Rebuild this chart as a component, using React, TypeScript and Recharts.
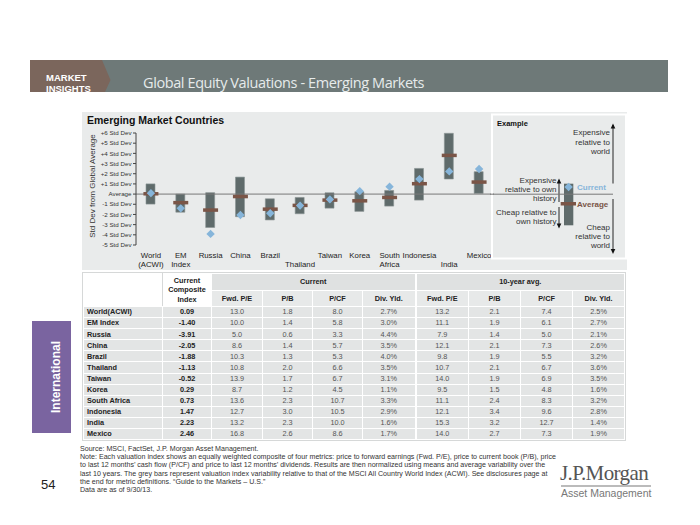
import React from "react"
import { ComposedChart, Bar, Line, XAxis, YAxis, ReferenceLine } from "recharts"

const FONT = '"Liberation Sans", Arial, sans-serif'

// chart: composite valuation index in std devs vs. global average
const axisLabels = ["World\n(ACWI)", "EM\nIndex", "Russia", "China", "Brazil", "\nThailand", "Taiwan", "Korea", "South\nAfrica", "Indonesia", "\nIndia", "Mexico"]
const rangeLow = [-0.98, -1.78, -3.28, -2.22, -2.54, -1.93, -1.38, -1.7, -1.18, -0.59, 1.48, 0.07]
const rangeHigh = [1.0, 0.0, 0.14, 1.67, -0.46, -0.33, 0.13, 0.23, 0.36, 2.52, 5.97, 2.2]
const histAvg = [0.03, -0.84, -1.57, -0.24, -1.48, -1.11, -0.59, -0.66, -0.33, 1.02, 3.8, 1.18]
const composite = [0.09, -1.4, -3.91, -2.05, -1.88, -1.13, -0.52, 0.29, 0.73, 1.47, 2.23, 2.46]
const yTicks = [-5, -4, -3, -2, -1, 0, 1, 2, 3, 4, 5, 6]

// table
const tableNames = ["World(ACWI)", "EM Index", "Russia", "China", "Brazil", "Thailand", "Taiwan", "Korea", "South Africa", "Indonesia", "India", "Mexico"]
const subHeaders = ["Fwd. P/E", "P/B", "P/CF", "Div. Yld."]
const curFwdPE = ["13.0", "10.0", "5.0", "8.6", "10.3", "10.8", "13.9", "8.7", "13.6", "12.7", "13.2", "16.8"]
const curPB = ["1.8", "1.4", "0.6", "1.4", "1.3", "2.0", "1.7", "1.2", "2.3", "3.0", "2.3", "2.6"]
const curPCF = ["8.0", "5.8", "3.3", "5.7", "5.3", "6.6", "6.7", "4.5", "10.7", "10.5", "10.0", "8.6"]
const curDiv = ["2.7%", "3.0%", "4.4%", "3.5%", "4.0%", "3.5%", "3.1%", "1.1%", "3.3%", "2.9%", "1.6%", "1.7%"]
const avgFwdPE = ["13.2", "11.1", "7.9", "12.1", "9.8", "10.7", "14.0", "9.5", "11.1", "12.1", "15.3", "14.0"]
const avgPB = ["2.1", "1.9", "1.4", "2.1", "1.9", "2.1", "1.9", "1.5", "2.4", "3.4", "3.2", "2.7"]
const avgPCF = ["7.4", "6.1", "5.0", "7.3", "5.5", "6.7", "6.9", "4.8", "8.3", "9.6", "12.7", "7.3"]
const avgDiv = ["2.5%", "2.7%", "2.1%", "2.6%", "3.2%", "3.6%", "3.5%", "1.6%", "3.2%", "2.8%", "1.4%", "1.9%"]

const footnotes = [
  "Source: MSCI, FactSet, J.P. Morgan Asset Management.",
  "Note: Each valuation index shows an equally weighted composite of four metrics: price to forward earnings (Fwd. P/E), price to current book (P/B), price",
  "to last 12 months\u2019 cash flow (P/CF) and price to last 12 months\u2019 dividends. Results are then normalized using means and average variability over the",
  "last 10 years. The grey bars represent valuation index variability relative to that of the MSCI All Country World Index (ACWI). See disclosures page at",
  "the end for metric definitions. \u201cGuide to the Markets \u2013 U.S.\u201d",
  "Data are as of 9/30/13.",
]

const BAR = "#5f6b6b"
const AVG = "#7a5547"
const CUR = "#86b5da"
const PANEL = "#e9ebeb"
const CELL = "#e3e5e5"

const fmtY = (v: number) => (v === 0 ? "Average" : `${v > 0 ? "+" : ""}${v} Std Dev`)

const AxisTick = (props: any) => {
  const { x, y, payload } = props
  const lines = String(payload.value).split("\n")
  return (
    <g>
      {lines.map((l: string, i: number) => (
        <text key={i} x={x} y={y + 4.5 + i * 9.4} textAnchor="middle" fontSize={7.8} fill="#222" fontFamily={FONT}>
          {l}
        </text>
      ))}
    </g>
  )
}

const YTick = (props: any) => {
  const { x, y, payload } = props
  return (
    <text x={x} y={y + 2.2} textAnchor="end" fontSize={6.2} fill="#333" fontFamily={FONT}>
      {fmtY(payload.value)}
    </text>
  )
}

const YLabel = (props: any) => {
  const { x, y, height } = props.viewBox
  const cx = x + 9
  const cy = y + height / 2 - 3
  return (
    <text x={cx} y={cy} transform={`rotate(-90 ${cx} ${cy})`} textAnchor="middle" dominantBaseline="central" fontSize={8} fill="#333" fontFamily={FONT}>
      Std Dev from Global Average
    </text>
  )
}

const renderAvg = (p: any) => {
  if (p.cx == null || p.cy == null) return <g key={`a${p.index}`} />
  return <rect key={`a${p.index}`} x={p.cx - 7.5} y={p.cy - 1.75} width={15} height={3.5} fill={AVG} />
}

const renderCur = (p: any) => {
  if (p.cx == null || p.cy == null) return <g key={`c${p.index}`} />
  const { cx, cy } = p
  return <path key={`c${p.index}`} d={`M${cx},${cy - 4.2} L${cx + 4.2},${cy} L${cx},${cy + 4.2} L${cx - 4.2},${cy} Z`} fill={CUR} />
}

function ExamplePanel() {
  const t = { fontSize: 8, fill: "#333", fontFamily: FONT }
  const up = (x: number, y: number) => <polygon points={`${x},${y} ${x - 2.3},${y + 5} ${x + 2.3},${y + 5}`} fill="#111" />
  const down = (x: number, y: number) => <polygon points={`${x},${y} ${x - 2.3},${y - 5} ${x + 2.3},${y - 5}`} fill="#111" />
  return (
    <svg style={{ position: "absolute", left: 490, top: 113 }} width={140} height={150}>
      <rect x={2} y={1.5} width={134} height={144} fill="none" stroke="#fff" strokeWidth={2} />
      <text x={7} y={13} fontSize={7.5} fontWeight="bold" fill="#111" fontFamily={FONT}>Example</text>
      <g textAnchor="end">
        <text x={120} y={22} {...t}>Expensive</text>
        <text x={120} y={31.5} {...t}>relative to</text>
        <text x={120} y={41} {...t}>world</text>
        <text x={120} y={116.5} {...t}>Cheap</text>
        <text x={120} y={125.5} {...t}>relative to</text>
        <text x={120} y={135} {...t}>world</text>
        <text x={66.5} y={69.5} {...t}>Expensive</text>
        <text x={66.5} y={78.5} {...t}>relative to own</text>
        <text x={66.5} y={87.5} {...t}>history</text>
        <text x={66.5} y={101.5} {...t}>Cheap relative to</text>
        <text x={66.5} y={110.5} {...t}>own history</text>
      </g>
      <line x1={123} y1={12} x2={123} y2={70.5} stroke="#111" strokeWidth={0.9} />
      {up(123, 10.5)}
      <line x1={123} y1={86} x2={123} y2={139} stroke="#111" strokeWidth={0.9} />
      {down(123, 141)}
      <line x1={69} y1={67} x2={69} y2={89} stroke="#111" strokeWidth={0.9} />
      {up(69, 65.5)}
      <line x1={69} y1={94} x2={69} y2={113} stroke="#111" strokeWidth={0.9} />
      {down(69, 115.5)}
      <rect x={74} y={70.7} width={9.3} height={41.6} fill={BAR} />
      <line x1={0} y1={81.2} x2={123} y2={81.2} stroke="#777" strokeWidth={1} />
      <rect x={70.7} y={89} width={15.3} height={3.5} fill={AVG} />
      <path d="M78.6,69.8 L82.8,74 L78.6,78.2 L74.4,74 Z" fill={CUR} />
      <text x={87} y={77} fontSize={8} fontWeight="bold" fill={CUR} fontFamily={FONT}>Current</text>
      <text x={87} y={93.5} fontSize={8} fontWeight="bold" fill={AVG} fontFamily={FONT}>Average</text>
    </svg>
  )
}

function ValuationTable() {
  const colW = [79, 49, 51, 50, 50, 53, 53, 52, 52, 52]
  const base: React.CSSProperties = { padding: 0, border: "1px solid #fff", textAlign: "center", lineHeight: "1", whiteSpace: "nowrap" }
  const hdr: React.CSSProperties = { ...base, fontWeight: "bold", color: "#222", background: CELL }
  const cell: React.CSSProperties = { ...base, color: "#555", background: CELL }
  const cols = [curFwdPE, curPB, curPCF, curDiv, avgFwdPE, avgPB, avgPCF, avgDiv]
  return (
    <table
      style={{
        position: "absolute", left: 83, top: 273, width: 541, borderCollapse: "collapse", tableLayout: "fixed",
        fontFamily: FONT, fontSize: 7.3, outline: "1px solid #d6d8d8",
      }}
    >
      <colgroup>
        {colW.map((w, i) => <col key={i} style={{ width: w }} />)}
      </colgroup>
      <tbody>
        <tr style={{ height: 16.5 }}>
          <td rowSpan={2} style={{ ...base, background: "#fff", borderRight: "1px solid #d6d8d8" }} />
          <td rowSpan={2} style={{ ...hdr, background: "#fff", lineHeight: "9.6px" }}>Current<br />Composite<br />Index</td>
          <td colSpan={4} style={{ ...hdr, background: "#dfe1e1", borderRight: "2px solid #fff" }}>Current</td>
          <td colSpan={4} style={{ ...hdr, background: "#dfe1e1" }}>10-year avg.</td>
        </tr>
        <tr style={{ height: 16.5 }}>
          {[...subHeaders, ...subHeaders].map((h, i) => (
            <td key={i} style={{ ...hdr, background: "#e7e9e9", borderRight: i === 3 ? "2px solid #fff" : base.border }}>{h}</td>
          ))}
        </tr>
        {tableNames.map((n, r) => (
          <tr key={n} style={{ height: 11.1 }}>
            <td style={{ ...hdr, textAlign: "left", paddingLeft: 3 }}>{n}</td>
            <td style={hdr}>{composite[r].toFixed(2)}</td>
            {cols.map((c, k) => (
              <td key={k} style={{ ...cell, borderRight: k === 3 ? "2px solid #fff" : base.border }}>{c[r]}</td>
            ))}
          </tr>
        ))}
      </tbody>
    </table>
  )
}

export default function App() {
  const chartData = axisLabels.map((label, i) => ({
    label,
    range: [rangeLow[i], rangeHigh[i]],
    avg: histAvg[i],
    current: composite[i],
  }))

  return (
    <div style={{ position: "absolute", left: 0, top: 0, width: 700, height: 525, background: "#fff", fontFamily: FONT, overflow: "hidden" }}>
      {/* header band */}
      <div style={{ position: "absolute", left: 30, top: 60, width: 638, height: 32, background: "#6e7978", overflow: "hidden" }}>
        <svg width={638} height={32} style={{ position: "absolute", left: 0, top: 0 }}>
          <polygon points="0,0 72,0 80.5,20 75,32 0,32" fill="#7b665c" />
          <text x={16} y={20.5} fontSize={9.5} fontWeight="bold" fill="#fff" fontFamily={FONT}>MARKET</text>
          <text x={16} y={31.6} fontSize={9.5} fontWeight="bold" fill="#fff" fontFamily={FONT}>INSIGHTS</text>
          <text x={113} y={27.5} fontSize={14.5} fill="#e6ebeb" fontFamily='"Open Sans", sans-serif' letterSpacing={-0.4}>
            Global Equity Valuations - Emerging Markets
          </text>
        </svg>
      </div>

      {/* chart panel */}
      <div style={{ position: "absolute", left: 82, top: 112, width: 545, height: 158, background: PANEL }} />
      <div style={{ position: "absolute", left: 87, top: 114, fontSize: 10.5, fontWeight: "bold", color: "#111", whiteSpace: "nowrap" }}>
        Emerging Market Countries
      </div>
      <div style={{ position: "absolute", left: 83, top: 113 }}>
        <ComposedChart width={420} height={160} data={chartData} margin={{ top: 20, right: 9, bottom: 0, left: 0 }}>
          <XAxis dataKey="label" height={28} axisLine={false} tickLine={false} interval={0} tick={<AxisTick />} />
          <YAxis
            width={53}
            domain={[-5, 6]}
            ticks={yTicks}
            interval={0}
            tickSize={3}
            tickMargin={1.5}
            axisLine={{ stroke: "#444" }}
            tickLine={{ stroke: "#444" }}
            tick={<YTick />}
            label={<YLabel />}
          />
          <ReferenceLine y={0} stroke="#777" strokeWidth={1} />
          <Bar dataKey="range" barSize={9} fill={BAR} stroke="#8a9494" strokeWidth={0.6} isAnimationActive={false} />
          <Line dataKey="avg" stroke="none" dot={renderAvg} activeDot={false} isAnimationActive={false} />
          <Line dataKey="current" stroke="none" dot={renderCur} activeDot={false} isAnimationActive={false} />
        </ComposedChart>
      </div>
      <ExamplePanel />

      <ValuationTable />

      {/* side tab */}
      <div style={{ position: "absolute", left: 32, top: 321, width: 39, height: 112, background: "#7a64a0" }}>
        <div
          style={{
            position: "absolute", left: 24, top: 56, transform: "translate(-50%, -50%) rotate(-90deg)",
            color: "#fff", fontWeight: "bold", fontSize: 12, whiteSpace: "nowrap",
          }}
        >
          International
        </div>
      </div>

      {/* footnotes */}
      {footnotes.map((f, i) => (
        <div key={i} style={{ position: "absolute", left: 80, top: 445 + i * 8.2, fontSize: 7.1, lineHeight: "8px", color: "#333", whiteSpace: "nowrap" }}>
          {f}
        </div>
      ))}
      <div style={{ position: "absolute", left: 41, top: 477, fontSize: 13, color: "#222" }}>54</div>

      {/* logo */}
      <div style={{ position: "absolute", left: 560, top: 461, fontSize: 21, fontFamily: '"Liberation Serif", "DejaVu Serif", serif', color: "#555", letterSpacing: -0.6, whiteSpace: "nowrap", lineHeight: "24px" }}>
        J.P.Morgan
      </div>
      <div style={{ position: "absolute", left: 561, top: 485, width: 90, height: 1.5, background: "#bbb" }} />
      <div style={{ position: "absolute", left: 561, top: 487, fontSize: 10.5, color: "#777", whiteSpace: "nowrap", lineHeight: "13px" }}>
        Asset Management
      </div>
    </div>
  )
}
